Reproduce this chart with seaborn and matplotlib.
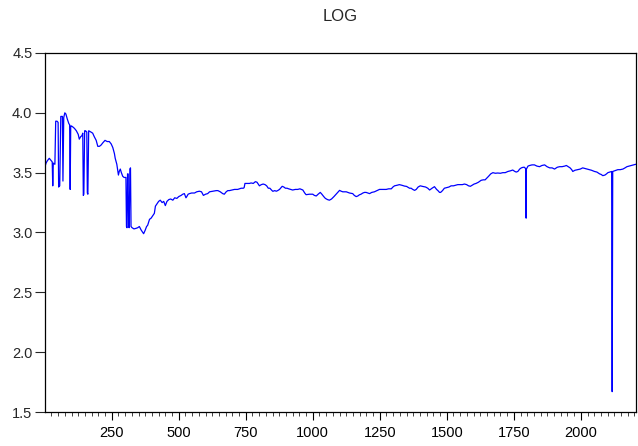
# LOG series line chart (EViews style)

import numpy as np
import pandas as pd
import matplotlib
matplotlib.use("Agg")
import matplotlib.pyplot as plt
import seaborn as sns
from matplotlib.ticker import MultipleLocator, FormatStrFormatter

obs = [
    1, 5, 10, 17, 24, 28, 30, 32, 38, 41, 46, 50, 52, 56, 60, 66, 68, 71, 75, 79,
    84, 90, 93, 95, 97, 100, 106, 111, 118, 125, 129, 134, 139, 142, 144, 146, 149, 152, 157, 159,
    161, 164, 172, 179, 185, 192, 198, 204, 210, 217, 225, 233, 241, 248, 254, 260, 263, 269, 275, 278,
    282, 286, 291, 296, 301, 303, 305, 307, 309, 311, 313, 315, 318, 320, 322, 326, 333, 341, 347, 353,
    360, 366, 369, 375, 380, 384, 391, 397, 403, 409, 413, 419, 425, 431, 438, 444, 450, 456, 463, 470,
    478, 485, 493, 500, 509, 515, 521, 527, 530, 535, 540, 548, 559, 567, 577, 585, 592, 600, 608, 615,
    627, 640, 646, 655, 664, 670, 677, 683, 689, 698, 708, 720, 733, 741, 744, 747, 755, 764, 770, 778,
    786, 792, 801, 808, 815, 822, 828, 834, 840, 846, 851, 858, 864, 869, 876, 886, 892, 898, 904, 910,
    918, 925, 935, 944, 952, 963, 970, 975, 981, 988, 994, 1000, 1006, 1013, 1020, 1028, 1034, 1041, 1047, 1055,
    1062, 1070, 1079, 1087, 1093, 1100, 1106, 1112, 1118, 1125, 1137, 1149, 1155, 1162, 1168, 1174, 1180, 1187, 1193, 1199,
    1206, 1212, 1220, 1230, 1240, 1249, 1255, 1265, 1274, 1283, 1293, 1299, 1305, 1315, 1323, 1332, 1342, 1350, 1361, 1367,
    1373, 1380, 1386, 1393, 1401, 1410, 1421, 1429, 1436, 1445, 1454, 1462, 1467, 1473, 1477, 1484, 1491, 1500, 1508, 1516,
    1525, 1533, 1541, 1550, 1558, 1566, 1574, 1581, 1588, 1595, 1602, 1609, 1618, 1628, 1636, 1643, 1650, 1656, 1664, 1672,
    1681, 1690, 1700, 1709, 1718, 1728, 1737, 1746, 1754, 1759, 1765, 1772, 1778, 1785, 1790, 1795, 1796, 1797, 1803, 1809,
    1818, 1827, 1836, 1846, 1855, 1865, 1874, 1884, 1893, 1902, 1912, 1921, 1930, 1940, 1946, 1953, 1960, 1966, 1970, 1978,
    1989, 1998, 2007, 2015, 2024, 2032, 2040, 2051, 2060, 2070, 2076, 2082, 2090, 2096, 2101, 2108, 2115, 2117, 2119, 2125,
    2132, 2138, 2147, 2157, 2165, 2172, 2182, 2190, 2198, 2205,
]
log_value = [
    3.55, 3.58, 3.60, 3.62, 3.60, 3.59, 3.39, 3.58, 3.57, 3.93, 3.93, 3.92, 3.38, 3.39, 3.97, 3.97, 3.43, 3.96, 4.00, 3.99,
    3.95, 3.91, 3.90, 3.36, 3.89, 3.89, 3.88, 3.87, 3.85, 3.82, 3.78, 3.80, 3.81, 3.83, 3.31, 3.32, 3.85, 3.85, 3.84, 3.33,
    3.32, 3.85, 3.84, 3.83, 3.80, 3.77, 3.72, 3.72, 3.73, 3.75, 3.77, 3.76, 3.76, 3.74, 3.71, 3.66, 3.62, 3.57, 3.48, 3.51,
    3.53, 3.50, 3.47, 3.46, 3.46, 3.46, 3.05, 3.04, 3.49, 3.49, 3.05, 3.04, 3.53, 3.54, 3.05, 3.04, 3.03, 3.035, 3.04, 3.05,
    3.02, 3.00, 2.99, 3.02, 3.05, 3.06, 3.11, 3.12, 3.14, 3.16, 3.22, 3.24, 3.26, 3.27, 3.25, 3.26, 3.225, 3.26, 3.275, 3.28,
    3.27, 3.29, 3.285, 3.30, 3.31, 3.32, 3.325, 3.29, 3.30, 3.32, 3.325, 3.33, 3.33, 3.34, 3.345, 3.34, 3.31, 3.32, 3.325, 3.34,
    3.345, 3.35, 3.35, 3.34, 3.325, 3.32, 3.34, 3.35, 3.35, 3.355, 3.36, 3.36, 3.37, 3.37, 3.375, 3.41, 3.41, 3.41, 3.414, 3.41,
    3.425, 3.42, 3.39, 3.40, 3.405, 3.40, 3.39, 3.37, 3.37, 3.355, 3.344, 3.35, 3.345, 3.35, 3.36, 3.386, 3.38, 3.37, 3.37, 3.365,
    3.36, 3.355, 3.36, 3.36, 3.365, 3.355, 3.33, 3.316, 3.318, 3.32, 3.32, 3.32, 3.31, 3.305, 3.32, 3.335, 3.32, 3.30, 3.285, 3.275,
    3.27, 3.28, 3.30, 3.32, 3.335, 3.352, 3.345, 3.34, 3.34, 3.34, 3.33, 3.325, 3.31, 3.30, 3.305, 3.315, 3.32, 3.33, 3.335, 3.335,
    3.33, 3.325, 3.335, 3.34, 3.35, 3.36, 3.36, 3.36, 3.36, 3.365, 3.365, 3.38, 3.39, 3.395, 3.40, 3.395, 3.388, 3.385, 3.37, 3.37,
    3.36, 3.352, 3.36, 3.38, 3.39, 3.385, 3.38, 3.37, 3.355, 3.37, 3.383, 3.36, 3.35, 3.335, 3.335, 3.35, 3.37, 3.375, 3.38, 3.39,
    3.39, 3.395, 3.40, 3.40, 3.40, 3.405, 3.40, 3.39, 3.386, 3.395, 3.405, 3.41, 3.42, 3.436, 3.44, 3.44, 3.456, 3.47, 3.49, 3.50,
    3.495, 3.497, 3.495, 3.50, 3.50, 3.51, 3.515, 3.522, 3.51, 3.505, 3.51, 3.53, 3.54, 3.545, 3.545, 3.53, 3.12, 3.53, 3.555, 3.56,
    3.565, 3.565, 3.555, 3.55, 3.56, 3.565, 3.55, 3.54, 3.54, 3.53, 3.545, 3.55, 3.55, 3.555, 3.56, 3.55, 3.54, 3.525, 3.51, 3.52,
    3.525, 3.53, 3.54, 3.535, 3.53, 3.525, 3.52, 3.51, 3.505, 3.49, 3.485, 3.475, 3.48, 3.49, 3.50, 3.505, 3.51, 1.67, 3.51, 3.515,
    3.52, 3.525, 3.525, 3.53, 3.54, 3.55, 3.556, 3.56, 3.565, 3.57,
]

df = pd.DataFrame({"obs": obs, "LOG": log_value})

sns.set_style("ticks")
plt.rcParams["font.family"] = ["Liberation Sans", "DejaVu Sans"]

fig = plt.figure(figsize=(6.38, 4.46), dpi=100)
ax = fig.add_axes([0.0705, 0.0762, 0.926, 0.805])

sns.lineplot(data=df, x="obs", y="LOG", ax=ax, color="#0000FF",
             linewidth=0.9, estimator=None, sort=False)

ax.set_xlim(1, 2205)
ax.set_ylim(1.5, 4.5)
ax.set_xlabel("")
ax.set_ylabel("")
ax.set_title("LOG", fontsize=12, pad=23)

ax.xaxis.set_major_locator(MultipleLocator(250))
ax.xaxis.set_minor_locator(MultipleLocator(25))
ax.yaxis.set_major_locator(MultipleLocator(0.5))
ax.yaxis.set_major_formatter(FormatStrFormatter("%.1f"))

ax.tick_params(axis="x", which="major", direction="out", length=6, width=0.8,
               labelsize=10.5, pad=4, colors="black")
ax.tick_params(axis="x", which="minor", direction="out", length=3, width=0.6)
ax.tick_params(axis="y", which="major", direction="out", length=7, width=0.8,
               labelsize=10.5, pad=2)

for side in ["left", "right", "top", "bottom"]:
    ax.spines[side].set_visible(True)
    ax.spines[side].set_linewidth(0.9)
    ax.spines[side].set_color("black")

plt.savefig("out.png", dpi=100)
